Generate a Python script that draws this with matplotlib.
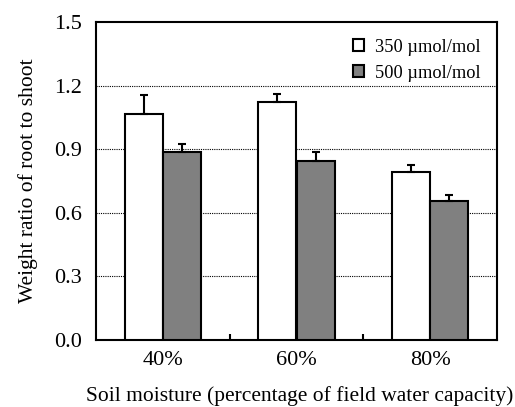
import numpy as np
import matplotlib.pyplot as plt

plt.rcParams['font.family'] = ['Liberation Serif', 'DejaVu Serif']

categorias = ['40%', '60%', '80%']
ppm350 = [1.067, 1.121, 0.791]
err350 = [0.089, 0.041, 0.035]
ppm500 = [0.885, 0.846, 0.657]
err500 = [0.040, 0.041, 0.028]

fig = plt.figure(figsize=(5.15, 4.07), dpi=100)
ax = fig.add_axes([96 / 515, 1 - 340 / 407, 401 / 515, 318 / 407])

x = np.arange(len(categorias))
w = 0.285
ax.bar(x - w / 2, ppm350, w, color='white', edgecolor='black', linewidth=1.5,
       label='350 \u00b5mol/mol', zorder=3)
ax.bar(x + w / 2, ppm500, w, color='#808080', edgecolor='black', linewidth=1.5,
       label='500 \u00b5mol/mol', zorder=3)
# Barras de error solo hacia arriba
ax.errorbar(x - w / 2, ppm350, yerr=[np.zeros(3), err350], fmt='none',
            ecolor='black', elinewidth=1.5, capsize=3, capthick=1.5, zorder=4)
ax.errorbar(x + w / 2, ppm500, yerr=[np.zeros(3), err500], fmt='none',
            ecolor='black', elinewidth=1.5, capsize=3, capthick=1.5, zorder=4)

ax.set_xlim(-0.5, 2.5)
ax.set_ylim(0, 1.5)
ax.set_yticks([0, 0.3, 0.6, 0.9, 1.2, 1.5])
ax.set_yticklabels(['0.0', '0.3', '0.6', '0.9', '1.2', '1.5'], fontsize=16)
ax.tick_params(axis='y', length=0, pad=10)
ax.set_xticks(x)
ax.set_xticklabels(categorias, fontsize=16)
ax.tick_params(axis='x', length=0, pad=8)
ax.set_xticks([0.5, 1.5], minor=True)
ax.tick_params(axis='x', which='minor', direction='in', length=4, width=1.5)

for y in [0.3, 0.6, 0.9, 1.2]:
    ax.axhline(y, color='black', linestyle=(0, (1, 1)), linewidth=0.8, zorder=1)

for s in ax.spines.values():
    s.set_linewidth(1.5)

ax.set_ylabel('Weight ratio of root to shoot', fontsize=15.5, labelpad=12)
ax.set_xlabel('Soil moisture (percentage of field water capacity)', fontsize=15.5)
ax.xaxis.set_label_coords(0.507, -0.145)

ax.legend(loc='upper right', frameon=False, fontsize=13.2, handlelength=0.6,
          handleheight=0.6, handletextpad=0.6, borderaxespad=0.5,
          labelspacing=0.5)

plt.savefig('out.png', dpi=100)
